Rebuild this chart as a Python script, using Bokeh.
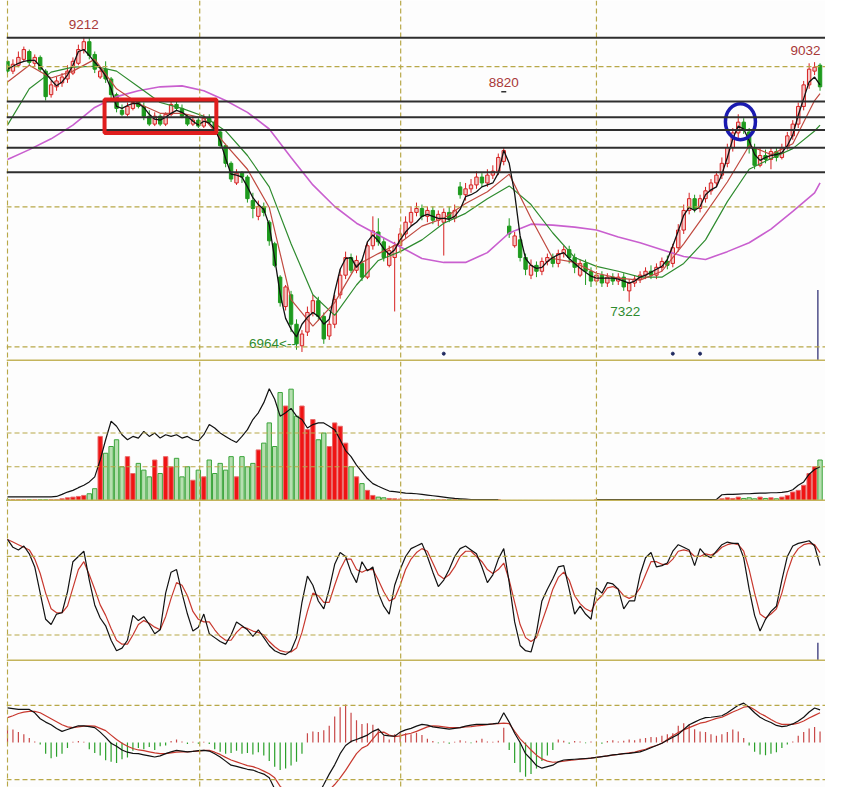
from bokeh.plotting import figure
from bokeh.layouts import column
from bokeh.models import BoxAnnotation, Span, ColumnDataSource, Range1d
from bokeh.embed import file_html
from bokeh.resources import INLINE
from bokeh.core.properties import value

NAN = float("nan")

# ---------------- price data (one entry per bar) ----------------
opens = [9038, 8968, 9010, 9052, 9108, 9024, 9066, 8968, 8800, 8856,
         8884, 8912, 8954, 9024, 9122, 9178, 9087, 8926, 8982, 8912,
         8800, 8688, 8660, 8702, 8744, 8716, 8646, 8590, 8646, 8590,
         8660, 8730, 8702, 8646, 8590, 8618, 8576, 8632, 8604, 8534,
         8436, 8310, 8170, 8240, 8212, 8044, 7932, 8002, 7890, 7736,
         7498, 7288, 7372, 7162, 7008, 7106, 7246, 7330, 7218, 7078,
         7162, 7372, 7512, 7638, 7547, 7596, 7498, 7722, 7820, 7750,
         7582, 7638, 7722, 7806, 7890, 7960, 7988, 7932, 7974, 7904,
         7890, 7960, 7918, 8142, 8086, 8128, 8156, 8212, 8170, 8226,
         8254, 8324, 7862, 7722, 7764, 7638, 7512, 7582, 7540, 7610,
         7638, 7596, 7666, 7694, 7638, 7512, 7596, 7540, 7470, 7512,
         7456, 7498, 7470, 7498, 7400, 7456, 7484, 7512, 7540, 7512,
         7568, 7610, 7596, 7708, 7834, 7974, 8058, 7988, 8058, 8114,
         8170, 8226, 8310, 8422, 8527, 8604, 8534, 8422, 8296, 8366,
         8338, 8394, 8352, 8422, 8506, 8590, 8716, 8870, 8968, 9010]
closes = [8968, 9017, 9066, 9122, 9031, 9066, 8982, 8786, 8870, 8898,
          8926, 8968, 9038, 9122, 9178, 9080, 8982, 8968, 8912, 8800,
          8702, 8660, 8716, 8744, 8716, 8646, 8590, 8646, 8590, 8660,
          8730, 8702, 8646, 8590, 8618, 8576, 8632, 8604, 8534, 8436,
          8310, 8198, 8240, 8212, 8058, 7988, 8002, 7960, 7757, 7582,
          7316, 7428, 7162, 7022, 7092, 7246, 7330, 7218, 7057, 7162,
          7337, 7512, 7638, 7547, 7617, 7498, 7722, 7827, 7750, 7638,
          7687, 7722, 7806, 7890, 7960, 7988, 7932, 7974, 7904, 7946,
          7960, 7918, 7974, 8086, 8128, 8156, 8212, 8170, 8226, 8254,
          8352, 8401, 7806, 7792, 7638, 7554, 7582, 7540, 7610, 7638,
          7596, 7666, 7694, 7638, 7568, 7596, 7540, 7470, 7512, 7456,
          7498, 7470, 7498, 7428, 7456, 7484, 7512, 7540, 7512, 7568,
          7610, 7582, 7708, 7834, 7974, 8058, 7988, 8058, 8114, 8170,
          8226, 8310, 8422, 8527, 8604, 8548, 8422, 8296, 8366, 8338,
          8394, 8352, 8422, 8506, 8590, 8716, 8870, 8982, 8996, 8856]
highs = [9066, 9052, 9108, 9143, 9122, 9087, 9080, 8982, 8898, 8926,
         8954, 9010, 9066, 9157, 9212, 9206, 9108, 8996, 9038, 8926,
         8814, 8730, 8744, 8772, 8772, 8744, 8688, 8674, 8660, 8674,
         8758, 8772, 8730, 8660, 8646, 8632, 8660, 8660, 8618, 8548,
         8450, 8324, 8268, 8254, 8226, 8100, 8044, 8030, 7904, 7750,
         7512, 7442, 7400, 7197, 7120, 7288, 7372, 7358, 7246, 7190,
         7372, 7554, 7680, 7666, 7652, 7624, 7750, 7932, 7918, 7778,
         7722, 7750, 7848, 7932, 8002, 8030, 8016, 8002, 8002, 7974,
         7988, 8002, 8016, 8177, 8170, 8198, 8254, 8240, 8268, 8296,
         8380, 8422, 7918, 7820, 7792, 7666, 7624, 7610, 7638, 7666,
         7666, 7694, 7722, 7722, 7666, 7624, 7624, 7568, 7540, 7540,
         7526, 7526, 7526, 7526, 7484, 7512, 7540, 7568, 7582, 7596,
         7638, 7652, 7736, 7876, 8016, 8100, 8086, 8086, 8142, 8198,
         8254, 8352, 8450, 8562, 8660, 8632, 8562, 8450, 8422, 8408,
         8422, 8422, 8450, 8534, 8618, 8744, 8898, 9024, 9032, 9024]
lows = [8940, 8947, 8996, 9038, 9010, 9003, 8961, 8758, 8779, 8828,
        8856, 8884, 8940, 9010, 9094, 9052, 8954, 8912, 8884, 8772,
        8674, 8646, 8646, 8688, 8702, 8618, 8576, 8576, 8576, 8576,
        8646, 8688, 8632, 8576, 8576, 8562, 8562, 8590, 8520, 8422,
        8282, 8177, 8156, 8170, 8030, 7918, 7904, 7932, 7722, 7568,
        7288, 7260, 7106, 6980, 6964, 7078, 7218, 7190, 7022, 7050,
        7134, 7344, 7484, 7526, 7526, 7470, 7484, 7694, 7722, 7610,
        7568, 7253, 7680, 7778, 7862, 7932, 7904, 7890, 7876, 7862,
        7652, 7890, 7890, 8058, 8044, 8100, 8128, 8142, 8142, 8198,
        8226, 8296, 7778, 7708, 7610, 7512, 7484, 7498, 7512, 7582,
        7568, 7568, 7638, 7596, 7526, 7498, 7442, 7428, 7442, 7428,
        7428, 7442, 7442, 7400, 7322, 7428, 7456, 7484, 7484, 7484,
        7540, 7554, 7568, 7680, 7806, 7946, 7960, 7960, 8030, 8086,
        8142, 8198, 8282, 8394, 8492, 8520, 8380, 8268, 8282, 8310,
        8268, 8324, 8338, 8408, 8478, 8562, 8688, 8842, 8940, 8828]

# short moving average (black), one value per bar
ma_short = [8982, 9003, 9024, 9038, 9045, 9045, 9003, 8954, 8905, 8863,
            8891, 8940, 9010, 9108, 9122, 9080, 9031, 8989, 8933, 8842,
            8716, 8702, 8723, 8737, 8737, 8709, 8660, 8625, 8618, 8639,
            8667, 8688, 8674, 8646, 8611, 8583, 8611, 8597, 8555, 8471,
            8345, 8233, 8226, 8212, 8142, 8065, 8016, 7981, 7869, 7631,
            7379, 7204, 7127, 7071, 7162, 7211, 7246, 7218, 7162, 7197,
            7393, 7554, 7631, 7638, 7568, 7617, 7750, 7799, 7757, 7701,
            7659, 7694, 7764, 7820, 7862, 7890, 7932, 7946, 7932, 7918,
            7918, 7911, 7932, 7981, 8072, 8086, 8107, 8142, 8156, 8170,
            8240, 8401, 8310, 8093, 7792, 7631, 7582, 7561, 7568, 7610,
            7638, 7659, 7673, 7631, 7596, 7561, 7533, 7505, 7491, 7491,
            7491, 7491, 7484, 7470, 7456, 7470, 7498, 7512, 7533, 7554,
            7575, 7624, 7722, 7827, 7939, 7995, 7974, 8002, 8086, 8121,
            8142, 8233, 8352, 8485, 8576, 8555, 8471, 8373, 8331, 8352,
            8366, 8373, 8387, 8436, 8513, 8653, 8772, 8891, 8926, 8870]

# longer moving averages, read every 4th bar (bars 0,4,...,148,149)
ma_mid = [8891, 9010, 8919, 8968, 9052, 8842, 8737, 8667, 8667, 8632,
          8443, 8268, 7995, 7337, 7148, 7316, 7582, 7666, 7743, 7862,
          7918, 8023, 8107, 8233, 7918, 7631, 7603, 7526, 7491, 7477,
          7540, 7736, 7953, 8177, 8436, 8373, 8450, 8758, 8807]
ma_long = [8583, 8842, 8961, 8996, 9003, 8968, 8856, 8744, 8702, 8646,
           8541, 8366, 8142, 7736, 7372, 7225, 7442, 7617, 7680, 7764,
           7883, 7953, 8058, 8149, 8016, 7813, 7638, 7575, 7540, 7498,
           7498, 7596, 7764, 8037, 8268, 8345, 8415, 8541, 8583]
ma_trend = [8338, 8408, 8485, 8583, 8709, 8786, 8828, 8856, 8863, 8828,
            8758, 8674, 8555, 8352, 8156, 8002, 7883, 7799, 7715, 7631,
            7603, 7603, 7673, 7813, 7876, 7869, 7855, 7834, 7785, 7743,
            7694, 7645, 7624, 7680, 7743, 7841, 7967, 8100, 8170]

level_lines = [9206, 8751, 8639, 8548, 8422, 8247]
price_grid = [7000, 8000, 9000]
period_ticks = [0, 35.25, 72.1, 108]
mid_label_bar = 91
mid_label_value = 8820

# ---------------- volume ----------------
volume = [0.02, 0.02, 0.02, 0.02, 0.02, 0.02, 0.02, 0.02, 0.02, 0.02,
          0.05, 0.08, 0.1, 0.12, 0.15, 0.2, 0.35, 1.9, 1.4, 1.6,
          1.8, 1.0, 1.3, 0.8, 1.1, 0.9, 0.7, 1.2, 0.8, 1.3,
          1.0, 1.25, 0.7, 1.0, 0.6, 0.9, 0.7, 1.2, 0.8, 1.1,
          0.9, 1.3, 0.7, 1.3, 1.0, 1.1, 1.5, 1.7, 2.3, 1.6,
          3.2, 2.8, 3.3, 2.5, 2.8, 2.1, 2.4, 1.8, 2.0, 1.6,
          2.3, 2.2, 1.7, 1.0, 0.7, 0.5, 0.3, 0.15, 0.1, 0.08,
          0.06, 0.05, 0.04, 0.03, 0.03, 0.02, 0.02, 0.02, 0.02, 0.02,
          0.02, 0.02, 0.02, 0.02, 0.02, 0.02, 0.02, 0.02, 0.02, 0.02,
          0.02, 0, 0, 0, 0, 0, 0, 0, 0, 0,
          0, 0, 0, 0, 0, 0, 0, 0, 0.02, 0.02,
          0.02, 0.02, 0.02, 0.02, 0.02, 0.02, 0.02, 0.02, 0.02, 0.02,
          0.02, 0.02, 0.02, 0.02, 0.02, 0.02, 0.02, 0.02, 0.02, 0.02,
          0.02, 0.05, 0.08, 0.06, 0.1, 0.06, 0.08, 0.05, 0.1, 0.06,
          0.08, 0.05, 0.1, 0.15, 0.25, 0.3, 0.45, 0.8, 1.0, 1.2]
volume_ma = [0.11, 0.11, 0.11, 0.11, 0.11, 0.11, 0.11, 0.11, 0.11, 0.12,
             0.18, 0.25, 0.3, 0.38, 0.45, 0.55, 0.7, 1.2, 1.8, 2.35,
             2.2, 1.95, 1.8, 1.9, 1.85, 2.05, 1.9, 2.0, 1.85, 1.95,
             1.9, 1.95, 1.85, 1.9, 1.8, 1.77, 1.95, 2.25, 2.15, 2.0,
             1.9, 1.8, 1.72, 1.9, 2.1, 2.4, 2.6, 2.9, 3.31, 3.0,
             2.5, 2.6, 2.73, 2.5, 2.4, 2.15, 2.25, 2.3, 2.3, 2.2,
             2.1, 1.8, 1.48, 1.3, 1.05, 0.85, 0.65, 0.5, 0.42, 0.35,
             0.28, 0.26, 0.24, 0.22, 0.21, 0.2, 0.18, 0.16, 0.14, 0.12,
             0.1, 0.08, 0.06, 0.05, 0.04, 0.03, 0.03, 0.03, 0.03, 0.03,
             0.03, NAN, NAN, NAN, NAN, NAN, NAN, NAN, NAN, NAN,
             NAN, NAN, NAN, NAN, NAN, NAN, NAN, NAN, 0.03, 0.03,
             0.03, 0.03, 0.03, 0.03, 0.03, 0.03, 0.03, 0.03, 0.03, 0.03,
             0.03, 0.03, 0.03, 0.03, 0.03, 0.03, 0.03, 0.03, 0.03, 0.03,
             0.03, 0.17, 0.18, 0.18, 0.19, 0.2, 0.2, 0.21, 0.22, 0.22,
             0.23, 0.23, 0.24, 0.26, 0.32, 0.45, 0.55, 0.78, 0.92, 1.0]
volume_grid = [1, 2]

# ---------------- stochastic ----------------
stoch_k = [93, 87, 85, 88, 82, 72, 52, 32, 28, 36,
           37, 53, 76, 80, 84, 62, 43, 33, 27, 16,
           8, 10, 16, 35, 31, 34, 28, 21, 24, 52,
           68, 70, 52, 36, 23, 26, 36, 21, 18, 15,
           13, 20, 30, 27, 24, 19, 24, 18, 12, 8,
           6, 5, 8, 18, 45, 65, 58, 46, 40, 55,
           74, 83, 80, 68, 60, 76, 69, 72, 52, 42,
           36, 58, 70, 80, 86, 88, 90, 80, 68, 57,
           62, 70, 80, 86, 88, 85, 82, 72, 60, 66,
           78, 86, 60, 30, 12, 8, 7, 22, 46, 55,
           63, 72, 73, 55, 36, 42, 36, 32, 56, 52,
           60, 59, 55, 40, 46, 46, 66, 79, 83, 72,
           73, 75, 84, 89, 87, 85, 73, 86, 81, 79,
           84, 89, 91, 90, 90, 79, 55, 35, 23, 32,
           38, 42, 62, 80, 88, 90, 91, 92, 88, 73]
stoch_d = [93, 91, 89, 87, 85, 78, 67, 52, 40, 37,
           37, 42, 56, 70, 76, 66, 55, 43, 35, 25,
           16, 13, 13, 20, 28, 31, 29, 26, 24, 34,
           48, 60, 58, 50, 38, 32, 30, 30, 24, 19,
           16, 16, 22, 26, 25, 23, 22, 20, 15, 11,
           8, 7, 7, 10, 22, 38, 52, 50, 45, 45,
           58, 70, 78, 78, 70, 68, 70, 70, 62, 53,
           46, 48, 58, 70, 78, 83, 86, 84, 75, 66,
           63, 66, 72, 80, 84, 84, 80, 76, 70, 67,
           70, 75, 62, 45, 28, 18, 15, 18, 30, 42,
           55, 64, 68, 62, 50, 44, 40, 38, 46, 50,
           56, 57, 55, 50, 48, 50, 56, 66, 76, 76,
           74, 74, 78, 84, 85, 84, 80, 80, 82, 81,
           83, 87, 89, 90, 89, 84, 70, 52, 36, 33,
           36, 40, 52, 68, 80, 86, 89, 90, 89, 83]
stoch_grid = [20, 50, 80]

# ---------------- MACD ----------------
macd_dif = [93, 91, 89, 89, 89, 80, 64, 55, 48, 38,
            30, 35, 40, 45, 45, 43, 40, 28, 14, -2,
            -10, -20, -26, -29, -30, -33, -36, -39, -36, -30,
            -25, -21, -23, -25, -24, -22, -21, -23, -30, -39,
            -50, -61, -64, -68, -72, -74, -80, -85, -95, -125,
            -150, -170, -185, -190, -180, -170, -150, -140, -113, -85,
            -60, -30, -8, 3, 8, 14, 20, 30, 36, 20,
            18, 17, 28, 34, 38, 44, 49, 47, 42, 40,
            38, 36, 38, 40, 44, 47, 49, 49, 49, 50,
            52, 80, 55, 25, 0, -30, -45, -62, -69, -65,
            -61, -52, -47, -46, -45, -44, -43, -42, -40, -38,
            -36, -33, -32, -30, -29, -27, -25, -20, -14, -8,
            -2, 6, 14, 22, 35, 48, 55, 62, 67, 68,
            70, 72, 80, 90, 100, 106, 95, 80, 68, 60,
            54, 46, 43, 45, 50, 58, 68, 82, 93, 88]
macd_dea = [67, 72, 78, 82, 84, 84, 80, 72, 64, 56,
            48, 42, 40, 42, 44, 45, 44, 38, 32, 20,
            8, -2, -10, -16, -20, -22, -25, -28, -30, -30,
            -28, -26, -25, -25, -24, -23, -21, -21, -26, -32,
            -40, -47, -52, -57, -62, -65, -70, -77, -84, -95,
            -118, -130, -140, -150, -155, -160, -160, -150, -140, -128,
            -113, -95, -75, -52, -30, -15, -8, 10, 27, 28,
            20, 16, 18, 22, 25, 30, 36, 42, 45, 44,
            42, 40, 40, 40, 42, 43, 45, 46, 48, 50,
            51, 52, 51, 30, 10, -5, -20, -34, -44, -50,
            -53, -52, -50, -48, -47, -45, -44, -42, -40, -38,
            -36, -34, -32, -30, -28, -26, -22, -18, -12, -8,
            -2, 8, 18, 27, 34, 40, 46, 52, 55, 60,
            65, 68, 75, 82, 88, 95, 97, 88, 78, 71,
            62, 54, 49, 49, 49, 52, 58, 66, 73, 80]
macd_hist = [45, 35, 28, 22, 12, 3, -5, -30, -42, -38,
             -30, -15, 2, 4, 2, -18, -28, -35, -48, -52,
             -55, -45, -40, -22, -15, -18, -12, -20, -10, -8,
             4, 8, 3, -4, 2, -3, 2, -4, -18, -25,
             -30, -28, -22, -30, -28, -32, -26, -35, -50, -65,
             -74, -70, -62, -52, -30, 25, 30, 28, 33, 45,
             70, 95, 102, 80, 60, 50, 52, 48, 38, 18,
             8, 22, 28, 25, 22, 26, 20, 10, 4, -2,
             3, -3, 2, 6, 3, -2, 5, 10, 3, 2,
             5, 40, -20, -55, -80, -92, -85, -70, -50, -35,
             -20, 8, 5, -3, 4, 3, -2, 3, 2, -3,
             4, 6, 3, 5, 8, 6, 10, 12, 15, 14,
             18, 22, 25, 45, 52, 48, 36, 30, 28, 22,
             18, 22, 28, 35, 30, 12, -8, -25, -32, -34,
             -30, -26, -15, -5, 3, 18, 28, 38, 42, 30]
macd_grid = [-100, 100]

# annotations (data coordinates)
box_bars = (17.8, 38.3)
box_prices = (8765, 8527)
highlight_bar = 134.4
highlight_price = 8607
event_bars = [80, 122, 127]
cursor_bar = 148.6

# ---------------- layout ----------------
n = len(closes)
idx = list(range(n))
ma_idx = list(range(0, n - 1, 4)) + [n - 1]

W = 825
H_PRICE, H_VOL, H_STO, H_MACD = 361, 140, 160, 126
x_range = Range1d(-0.18, 150.0)

GRID = "#b8a848"
SEP = "#c4b45c"
UP_LINE, UP_FILL = "#d62020", "#f6c8c8"
DN_LINE, DN_FILL = "#1e9a1e", "#1e9a1e"
FONT = value("Liberation Sans")


def make_fig(h, y0, y1, yticks, sep=True):
    p = figure(width=W, height=h, x_range=x_range, y_range=Range1d(y0, y1),
               output_backend="svg", toolbar_location=None,
               x_axis_location=None, y_axis_location=None,
               min_border_left=6, min_border_right=0, min_border_top=0,
               min_border_bottom=0, background_fill_color="#fdfdfd",
               border_fill_color="#ffffff", outline_line_color=None)
    p.grid.visible = False
    for t in period_ticks:
        p.add_layout(Span(location=t, dimension="height", line_color=GRID,
                          line_dash="5 3", line_width=1.2))
    for t in yticks:
        p.add_layout(Span(location=t, dimension="width", line_color=GRID,
                          line_dash="5 3", line_width=1.2))
    if sep:
        p.add_layout(Span(location=y0 + (y1 - y0) / h, dimension="width",
                          line_color=SEP, line_width=2))
    return p


# ----- price panel -----
pp = make_fig(H_PRICE, 6896, 9472, price_grid)
for lv in level_lines:
    pp.add_layout(Span(location=lv, dimension="width", line_color="#2e2e2e",
                       line_width=2))

up = [c >= o for o, c in zip(opens, closes)]
src = ColumnDataSource(dict(
    x=idx, h=highs, l=lows,
    top=[max(o, c) for o, c in zip(opens, closes)],
    bot=[min(o, c) for o, c in zip(opens, closes)],
    lc=[UP_LINE if u else DN_LINE for u in up],
    fc=[UP_FILL if u else DN_FILL for u in up],
))
pp.segment(x0="x", y0="h", x1="x", y1="l", line_color="lc", line_width=1, source=src)
pp.vbar(x="x", top="top", bottom="bot", width=0.62, fill_color="fc",
        line_color="lc", line_width=1, source=src)

pp.line(ma_idx, ma_trend, line_color="#c95fcf", line_width=1.6)
pp.line(ma_idx, ma_long, line_color="#2e8b2e", line_width=1.2)
pp.line(ma_idx, ma_mid, line_color="#c04a40", line_width=1.2)
pp.line(idx, ma_short, line_color="#111111", line_width=1.3)

pp.add_layout(BoxAnnotation(left=box_bars[0], right=box_bars[1],
                            top=box_prices[0], bottom=box_prices[1],
                            fill_alpha=0, line_color="#e01e1e", line_alpha=1.0,
                            line_width=4))
pp.ellipse(x=[highlight_bar], y=[highlight_price], width=30, height=36,
           width_units="screen", height_units="screen", fill_color=None,
           line_color="#1a1ab0", line_width=3.5)

hi_i = highs.index(max(highs))
lo_i = lows.index(min(lows))
hi2_i = 92 + highs[92:].index(max(highs[92:]))
lo2_i = 92 + lows[92:].index(min(lows[92:]))
RED_TXT, GRN_TXT = "#a83838", "#2e8b2e"
pp.text(x=[hi_i], y=[highs[hi_i]], text=[str(highs[hi_i])], text_font=FONT,
        text_font_size="13.5px", text_color=RED_TXT, text_align="center",
        text_baseline="bottom", y_offset=-8)
pp.text(x=[hi2_i], y=[highs[hi2_i]], text=[str(highs[hi2_i])], text_font=FONT,
        text_font_size="13.5px", text_color=RED_TXT, text_align="right",
        text_baseline="bottom", x_offset=6, y_offset=-7)
pp.text(x=[mid_label_bar], y=[mid_label_value], text=[str(mid_label_value)],
        text_font=FONT, text_font_size="13.5px", text_color=RED_TXT,
        text_align="center", text_baseline="bottom", y_offset=-5)
pp.scatter(x=[mid_label_bar], y=[mid_label_value], marker="dash", size=5,
           line_color="#333333", line_width=1.5)
pp.text(x=[lo_i], y=[lows[lo_i]], text=[str(lows[lo_i]) + "<--"], text_font=FONT,
        text_font_size="13.5px", text_color=GRN_TXT, text_align="right",
        text_baseline="middle", x_offset=-6, y_offset=-8)
pp.text(x=[lo2_i], y=[lows[lo2_i]], text=[str(lows[lo2_i])], text_font=FONT,
        text_font_size="13.5px", text_color=GRN_TXT, text_align="center",
        text_baseline="top", x_offset=-4, y_offset=5)
pp.scatter(x=event_bars, y=[6952] * len(event_bars), marker="circle", size=3,
           color="#202a60")
pp.segment(x0=[cursor_bar], y0=[7407], x1=[cursor_bar], y1=[6896],
           line_color="#50508a", line_width=1.5)

# ----- volume panel -----
pv = make_fig(H_VOL, -0.03, 4.12, volume_grid)
vsrc = ColumnDataSource(dict(
    x=idx, v=volume,
    lc=["#e86a6a" if u else "#3aa43a" for u in up],
    fc=["#f01414" if u else "#b6dfb0" for u in up],
))
pv.vbar(x="x", top="v", bottom=0, width=0.8, fill_color="fc", line_color="lc",
        line_width=1, source=vsrc)
pv.line(idx, volume_ma, line_color="#111111", line_width=1.2)

# ----- stochastic panel -----
ps = make_fig(H_STO, -0.25, 122, stoch_grid)
ps.line(idx, stoch_d, line_color="#c8382e", line_width=1.2)
ps.line(idx, stoch_k, line_color="#111111", line_width=1.2)
ps.segment(x0=[cursor_bar], y0=[14], x1=[cursor_bar], y1=[-0.25],
           line_color="#50508a", line_width=1.5)

# ----- MACD panel -----
pm = make_fig(H_MACD, -121, 218, macd_grid, sep=False)
hsrc = ColumnDataSource(dict(
    x=idx, y0=[0] * n, y1=macd_hist,
    c=["#c84848" if h >= 0 else "#2aa02a" for h in macd_hist],
))
pm.segment(x0="x", y0="y0", x1="x", y1="y1", line_color="c", line_width=1.2,
           source=hsrc)
pm.line(idx, macd_dea, line_color="#c8382e", line_width=1.2)
pm.line(idx, macd_dif, line_color="#111111", line_width=1.2)

layout = column(pp, pv, ps, pm, spacing=0)
open("out.html", "w").write(file_html(layout, INLINE))
